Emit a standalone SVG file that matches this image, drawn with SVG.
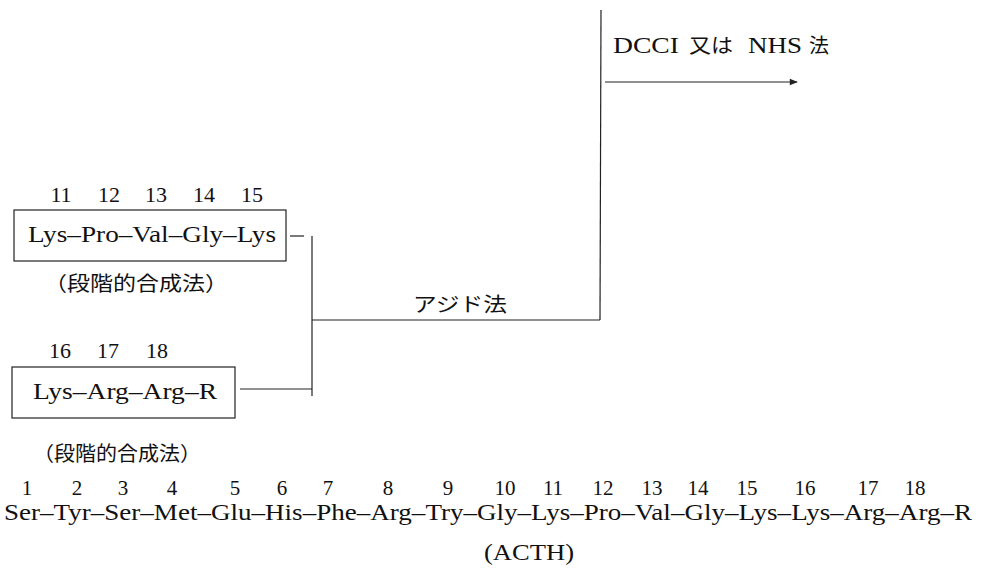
<svg xmlns="http://www.w3.org/2000/svg" width="982" height="569" viewBox="0 0 982 569">
<style>
  .s { font-family: "Liberation Serif", "Noto Sans CJK JP", serif; font-size: 23px; fill: #111; }
  .n { font-family: "Liberation Serif", serif; font-size: 22px; fill: #111; text-anchor: middle; }
  .nb { font-size: 21px; }
  .j { font-family: "Noto Sans CJK JP", sans-serif; font-size: 20px; fill: #111; }
  .box { fill: none; stroke: #222; stroke-width: 1.2; }
  .ln { fill: none; stroke: #222; stroke-width: 1.2; }
</style>
<defs>
  <marker id="arr" viewBox="0 0 10 10" refX="9" refY="5" markerWidth="9" markerHeight="8" markerUnits="userSpaceOnUse" orient="auto">
    <path d="M0,1 L10,5 L0,9 Z" fill="#222"/>
  </marker>
</defs>
<rect width="982" height="569" fill="#fff"/>

<g id="fragment-11-15">
  <text class="n" x="61" y="202">11</text>
  <text class="n" x="109" y="202">12</text>
  <text class="n" x="156" y="202">13</text>
  <text class="n" x="204" y="202">14</text>
  <text class="n" x="252" y="202">15</text>
  <rect class="box" x="14" y="210" width="272" height="51"/>
  <text class="s" x="28" y="242" textLength="248" lengthAdjust="spacingAndGlyphs">Lys–Pro–Val–Gly–Lys</text>
  <text class="j" x="44" y="291" textLength="184" lengthAdjust="spacingAndGlyphs">（段階的合成法）</text>
</g>

<g id="fragment-16-18">
  <text class="n" x="60" y="358">16</text>
  <text class="n" x="108" y="358">17</text>
  <text class="n" x="157" y="358">18</text>
  <rect class="box" x="12" y="367" width="223" height="51"/>
  <text class="s" x="33" y="399" textLength="184" lengthAdjust="spacingAndGlyphs">Lys–Arg–Arg–R</text>
  <text class="j" x="33" y="461" textLength="168" lengthAdjust="spacingAndGlyphs">（段階的合成法）</text>
</g>

<g id="label-azide">
  <text class="j" x="413" y="312" textLength="94" lengthAdjust="spacingAndGlyphs">アジド法</text>
</g>

<g id="label-dcci">
  <text class="s" x="613" y="53" textLength="66" lengthAdjust="spacingAndGlyphs">DCCI</text>
  <text class="j" x="689" y="53" textLength="44" lengthAdjust="spacingAndGlyphs">又は</text>
  <text class="s" x="748" y="53" textLength="54" lengthAdjust="spacingAndGlyphs">NHS</text>
  <text class="j" x="809" y="53">法</text>
</g>

<g id="acth">
  <text class="n nb" x="27" y="495">1</text>
  <text class="n nb" x="77" y="495">2</text>
  <text class="n nb" x="123" y="495">3</text>
  <text class="n nb" x="172" y="495">4</text>
  <text class="n nb" x="235" y="495">5</text>
  <text class="n nb" x="282" y="495">6</text>
  <text class="n nb" x="328" y="495">7</text>
  <text class="n nb" x="388" y="495">8</text>
  <text class="n nb" x="448" y="495">9</text>
  <text class="n nb" x="505" y="495">10</text>
  <text class="n nb" x="553" y="495">11</text>
  <text class="n nb" x="603" y="495">12</text>
  <text class="n nb" x="652" y="495">13</text>
  <text class="n nb" x="698" y="495">14</text>
  <text class="n nb" x="747" y="495">15</text>
  <text class="n nb" x="805" y="495">16</text>
  <text class="n nb" x="868" y="495">17</text>
  <text class="n nb" x="915" y="495">18</text>
  <text class="s" x="4" y="520" textLength="968" lengthAdjust="spacingAndGlyphs">Ser–Tyr–Ser–Met–Glu–His–Phe–Arg–Try–Gly–Lys–Pro–Val–Gly–Lys–Lys–Arg–Arg–R</text>
  <text class="s" x="484" y="560" textLength="90" lengthAdjust="spacingAndGlyphs">(ACTH)</text>
</g>

<g id="connectors">
  <line class="ln" x1="290" y1="236" x2="304" y2="236"/>
  <line class="ln" x1="240" y1="389" x2="312" y2="389"/>
  <line class="ln" x1="312" y1="236" x2="312" y2="396"/>
  <line class="ln" x1="312" y1="320" x2="600" y2="320"/>
  <line class="ln" x1="601" y1="10" x2="600" y2="320"/>
  <line class="ln" x1="605" y1="82" x2="797" y2="82" marker-end="url(#arr)"/>
</g>
</svg>
